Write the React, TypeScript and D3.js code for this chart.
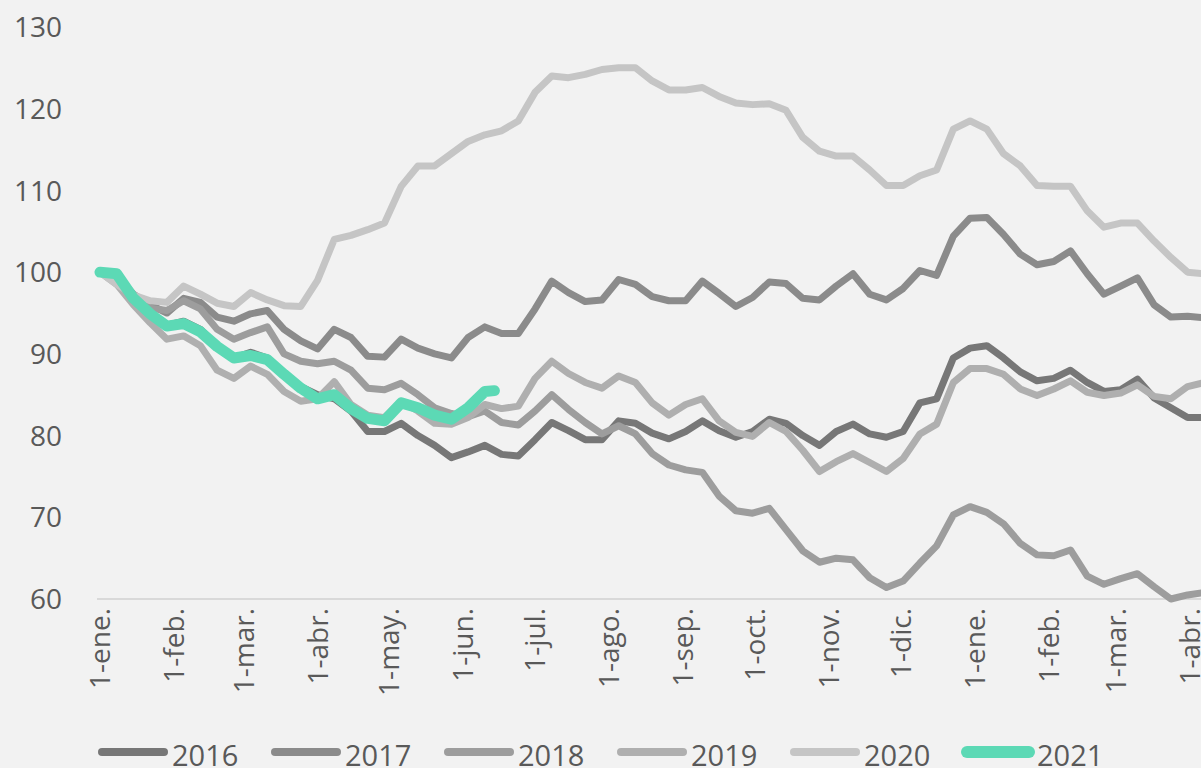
import React from 'react';
import * as d3 from 'd3';

const W = 1201;
const H = 768;

// Day offsets from 1 January (weekly samples, plus the right-edge sample)
const dayOffsets = [
  0, 7, 14, 21, 28, 35, 42, 49, 56, 63, 70, 77, 84, 91, 98, 105, 112, 119, 126, 133,
  140, 147, 154, 161, 168, 175, 182, 189, 196, 203, 210, 217, 224, 231, 238, 245, 252, 259, 266, 273,
  280, 287, 294, 301, 308, 315, 322, 329, 336, 343, 350, 357, 364, 371, 378, 385, 392, 399, 406, 413,
  420, 427, 434, 441, 448, 455, 462,
];
const dayOffsets2021 = [
  0, 7, 14, 21, 28, 35, 42, 49, 56, 63, 70, 77, 84, 91, 98, 105, 112, 119, 126, 133,
  140, 147, 154, 161, 165,
];

const seriesNames = ['2016', '2017', '2018', '2019', '2020', '2021'];

const values2016 = [
  100, 99.5, 97, 94.5, 93.5, 94, 93, 91, 89.5, 90.2, 89.5, 87.5, 86, 85, 84.5, 83, 80.5, 80.5, 81.5, 80,
  78.8, 77.3, 78, 78.8, 77.7, 77.5, 79.5, 81.6, 80.6, 79.5, 79.5, 81.8, 81.5, 80.3, 79.6, 80.5, 81.8, 80.6, 79.8, 80.5,
  82, 81.5, 80, 78.8, 80.5, 81.4, 80.2, 79.8, 80.5, 84, 84.5, 89.5, 90.7, 91, 89.5, 87.8, 86.7, 87, 88, 86.5,
  85.4, 85.6, 86.9, 84.6, 83.4, 82.2, 82.2,
];
const values2017 = [
  100, 99.5, 97.3, 96, 95, 96.8, 96.3, 94.5, 94, 94.9, 95.3, 93, 91.6, 90.6, 93, 92, 89.7, 89.6, 91.8, 90.7,
  90, 89.5, 92, 93.3, 92.5, 92.5, 95.5, 98.9, 97.5, 96.4, 96.6, 99.1, 98.5, 97, 96.5, 96.5, 98.9, 97.4, 95.8, 96.9,
  98.8, 98.6, 96.8, 96.6, 98.3, 99.8, 97.3, 96.6, 98, 100.2, 99.6, 104.4, 106.6, 106.7, 104.6, 102.2, 100.9, 101.3, 102.6, 99.8,
  97.3, 98.3, 99.3, 96, 94.5, 94.6, 94.4,
];
const values2018 = [
  100, 99, 96.8, 95.6, 95.3, 96.5, 95.5, 93, 91.8, 92.6, 93.3, 90, 89.1, 88.8, 89.1, 88, 85.8, 85.6, 86.4, 85,
  83.4, 82.7, 82.3, 83, 81.6, 81.3, 83, 85, 83.2, 81.6, 80.2, 81.2, 80.2, 77.8, 76.4, 75.8, 75.5, 72.6, 70.8, 70.5,
  71.1, 68.5, 65.9, 64.5, 65, 64.8, 62.6, 61.4, 62.2, 64.4, 66.5, 70.3, 71.3, 70.6, 69.2, 66.8, 65.4, 65.3, 66, 62.8,
  61.8, 62.5, 63.1, 61.5, 60, 60.5, 60.8,
];
const values2019 = [
  100, 98.5, 96, 93.8, 91.8, 92.2, 91, 88, 87, 88.5, 87.5, 85.4, 84.2, 84.5, 86.6, 83.8, 82.5, 82.2, 84.2, 83,
  81.5, 81.4, 82.2, 83.8, 83.3, 83.6, 87, 89.1, 87.6, 86.5, 85.8, 87.3, 86.5, 84, 82.5, 83.8, 84.5, 81.8, 80.4, 79.9,
  81.6, 80.5, 78.2, 75.6, 76.8, 77.8, 76.7, 75.6, 77.2, 80.2, 81.4, 86.5, 88.2, 88.2, 87.5, 85.7, 84.9, 85.7, 86.7, 85.3,
  84.9, 85.2, 86.2, 84.8, 84.5, 86, 86.5,
];
const values2020 = [
  100, 98.5, 97.2, 96.5, 96.3, 98.3, 97.3, 96.2, 95.8, 97.5, 96.6, 95.9, 95.8, 99, 104, 104.5, 105.2, 106, 110.5, 113,
  113, 114.5, 116, 116.8, 117.3, 118.5, 122, 124, 123.8, 124.2, 124.8, 125, 125, 123.4, 122.3, 122.3, 122.6, 121.5, 120.7, 120.5,
  120.6, 119.8, 116.5, 114.8, 114.2, 114.2, 112.5, 110.6, 110.6, 111.8, 112.5, 117.5, 118.5, 117.5, 114.5, 113, 110.6, 110.5, 110.5, 107.5,
  105.5, 106, 106, 103.8, 101.8, 100, 99.8,
];
const values2021 = [
  100, 99.8, 96.8, 94.9, 93.4, 93.7, 92.7, 90.9, 89.5, 89.8, 89.3, 87.5, 85.8, 84.5, 85, 83.3, 82.1, 81.8, 84, 83.4,
  82.5, 82, 83.4, 85.4, 85.5,
];

const yTicks = [60, 70, 80, 90, 100, 110, 120, 130];
const xTickLabels = [
  '1-ene.', '1-feb.', '1-mar.', '1-abr.', '1-may.', '1-jun.', '1-jul.', '1-ago.',
  '1-sep.', '1-oct.', '1-nov.', '1-dic.', '1-ene.', '1-feb.', '1-mar.', '1-abr.',
];

const colors = ['#777777', '#8b8b8b', '#9d9d9d', '#afafaf', '#c5c5c5', '#5cd9b5'];
const widths = [7, 7, 7, 7, 7, 11];

const FONT = "'Open Sans', 'Noto Sans', sans-serif";
const TEXT = '#595959';

export default function App() {
  const start = new Date(2016, 0, 1);
  const end = new Date(2017, 3, 1);
  const x = d3.scaleTime().domain([start, end]).range([100, 1190]);
  const y = d3.scaleLinear().domain([60, 130]).range([599, 27]);
  const toDate = (d: number) => d3.timeDay.offset(start, d);

  const allSeries = [values2016, values2017, values2018, values2019, values2020, values2021];
  const allDays = [dayOffsets, dayOffsets, dayOffsets, dayOffsets, dayOffsets, dayOffsets2021];

  const tickDates = d3.timeMonth.range(start, d3.timeDay.offset(end, 1));

  return (
    <svg width={W} height={H} style={{ position: 'absolute', left: 0, top: 0 }} fontFamily={FONT}>
      <rect x={0} y={0} width={W} height={H} fill="#f2f2f2" />
      {yTicks.map((t) => (
        <text key={t} x={62} y={y(t)} dy="0.36em" textAnchor="end" fontSize={28} fill={TEXT}>
          {t}
        </text>
      ))}
      <line x1={97} x2={W} y1={599} y2={599} stroke="#d9d9d9" strokeWidth={2} />
      {tickDates.map((d, i) => (
        <text
          key={i}
          transform={`translate(${x(d)},608) rotate(-90)`}
          textAnchor="end"
          dy="0.36em"
          fontSize={28}
          fill={TEXT}
        >
          {xTickLabels[i]}
        </text>
      ))}
      {allSeries.map((vals, si) => {
        const days = allDays[si];
        const line = d3
          .line<number>()
          .x((_, i) => x(toDate(days[i])))
          .y((v) => y(v));
        return (
          <path
            key={si}
            d={line(vals) || ''}
            fill="none"
            stroke={colors[si]}
            strokeWidth={widths[si]}
            strokeLinejoin="round"
            strokeLinecap="round"
          />
        );
      })}
      {seriesNames.map((name, i) => {
        const lx = 98 + i * 173;
        return (
          <g key={name}>
            <line
              x1={lx + 4}
              x2={lx + 66}
              y1={752}
              y2={752}
              stroke={colors[i]}
              strokeWidth={i === 5 ? 12 : 8}
              strokeLinecap="round"
            />
            <text x={lx + 74} y={766} fontSize={29} fill={TEXT}>
              {name}
            </text>
          </g>
        );
      })}
    </svg>
  );
}
